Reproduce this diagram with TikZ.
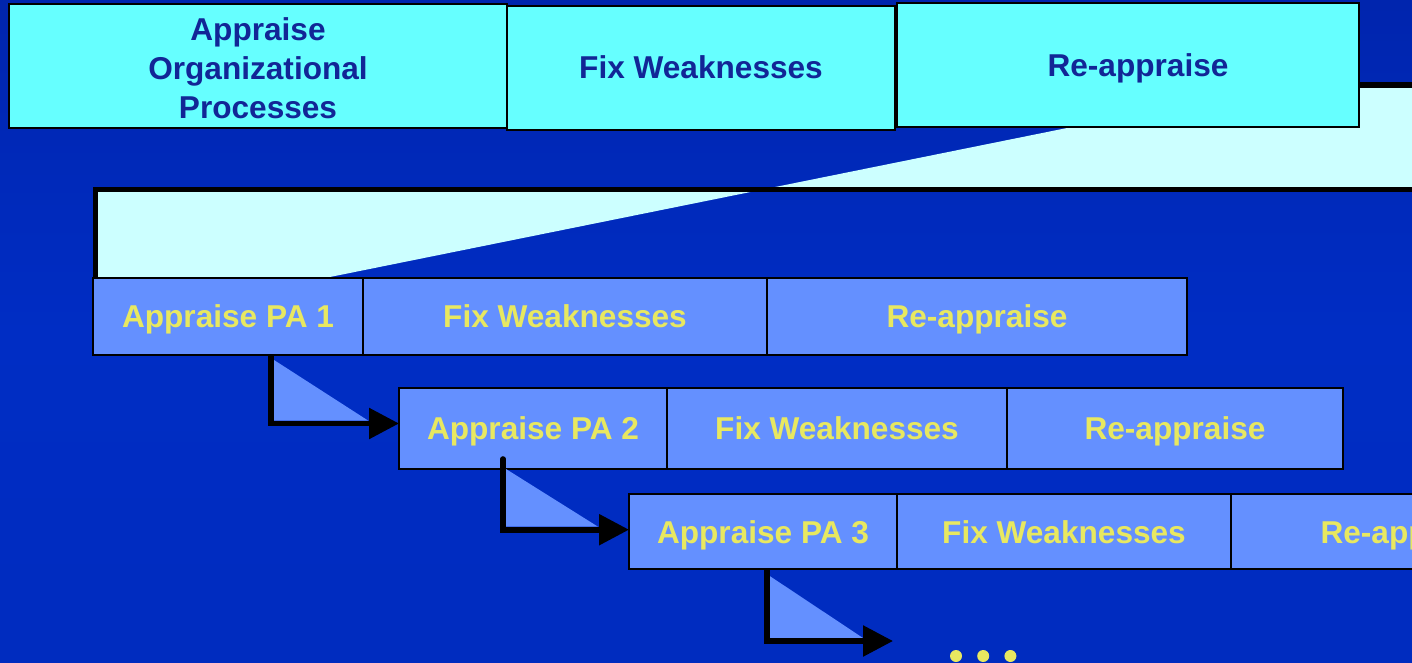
\documentclass[tikz,border=0pt]{standalone}
\usepackage{fontspec}
\setmainfont{Liberation Sans}
\usetikzlibrary{
  arrows.meta,
  positioning,
  calc
}
\definecolor{bgtop}{RGB}{0,22,135}
\definecolor{bgup}{RGB}{0,36,172}
\definecolor{bgmid}{RGB}{0,45,196}
\definecolor{bgbot}{RGB}{0,42,186}
\definecolor{topfill}{RGB}{102,255,255}
\definecolor{topink}{RGB}{18,38,150}
\definecolor{pafill}{RGB}{100,144,255}
\definecolor{paink}{RGB}{232,232,96}
\definecolor{zoomfill}{RGB}{204,255,255}
\pgfdeclareverticalshading{backdrop}{100bp}{color(0bp)=(bgbot); color(50bp)=(bgmid); color(77bp)=(bgup); color(100bp)=(bgtop)}
\tikzset{
  % One line of capitals, centred in its box
  capline/.style={text height=11.3pt, text depth=0pt},
  % Organisation-level box (top row)
  topbox/.style={
    draw=black, line width=1pt, fill=topfill, text=topink,
    minimum width=#1, minimum height=62pt,
    inner sep=0pt, outer sep=0pt, align=center,
    font=\bfseries\fontsize{15.8}{19.3}\selectfont
  },
  % Process-area box
  pabox/.style={
    draw=black, line width=1pt, fill=pafill, text=paink, capline,
    minimum width=#1, minimum height=38.5pt,
    inner sep=0pt, outer sep=0pt,
    font=\bfseries\fontsize{15.8}{19.3}\selectfont
  },
  % Thick elbow arrow
  elbow/.style={
    -{Triangle[length=15pt, width=15pt]}, line width=2.8pt, draw=black
  },
  % Small wedge inside an elbow
  wedge/.style={fill=pafill},
  % Outline of the zoom callout
  rim/.style={draw=black, line width=2.8pt}
}

\begin{document}
\begin{tikzpicture}[x=0.5pt, y=-0.5pt]

\useasboundingbox (0,0) rectangle (1412,663);
\clip (0,0) rectangle (1412,663);
\shade[shading=backdrop] (0,0) rectangle (1412,663);

% ── Zoom callout ──────────────────────────────────────────────────────────────
\fill[zoomfill] (95.5,189.5) -- (1420,189.5) -- (1420,85) -- (1358,85)
  -- (1358,127) -- (1072,127) -- (330,277) -- (95.5,277) -- cycle;
\draw[rim] (95.5,279) -- (95.5,189.5) -- (1420,189.5);
\draw[rim] (1358,85) -- (1420,85);

% ── Organisational level ──────────────────────────────────────────────────────
\node[topbox=249pt] (org1) at (258,65.7)
  {\rule{0pt}{14pt}Appraise\\Organizational\\Processes};
\node[topbox=194pt, capline, right=0pt of org1, yshift=-1pt] (org2) {Fix Weaknesses};
\node[topbox=231pt, capline, right=1pt of org2, yshift=1.2pt] (org3)
  {\hspace*{10pt}Re-appraise};

% ── Process areas ─────────────────────────────────────────────────────────────
\node[pabox=135pt] (apr1) at (228,316.5) {Appraise PA 1};
\node[pabox=202pt, right=0pt of apr1] (fix1) {Fix Weaknesses};
\node[pabox=210pt, right=0pt of fix1] (reapr1) {Re-appraise};

\node[pabox=134pt, minimum height=40.5pt] (apr2) at (533,428.5) {Appraise PA 2};
\node[pabox=170pt, minimum height=40.5pt, right=0pt of apr2] (fix2) {Fix Weaknesses};
\node[pabox=168pt, minimum height=40.5pt, right=0pt of fix2] (reapr2) {Re-appraise};

\node[pabox=134pt, minimum height=37.5pt] (apr3) at (763,531.7) {Appraise PA 3};
\node[pabox=167pt, minimum height=37.5pt, right=0pt of apr3] (fix3) {Fix Weaknesses};
\node[pabox=180pt, minimum height=37.5pt, right=0pt of fix3] (reapr3) {Re-appraise};

\coordinate (more) at (893,641);

% ── Elbows between process areas ──────────────────────────────────────────────
\fill[wedge] ($(apr1.south)+(46,5)$) |- ($(apr2.west)+(-31,-8)$) -- cycle;
\draw[elbow] ($(apr1.south)+(43,0)$) |- ($(apr2.west)+(0,-5)$);

\fill[wedge] ($(apr2.south)+(-27,0)$) |- ($(apr3.west)+(-31,-5)$) -- cycle;
\draw[elbow, line cap=round] ($(apr2.south)+(-30,-10)$) |- ($(apr3.west)+(0,-2)$);

\fill[wedge] ($(apr3.south)+(7,7)$) |- ($(more)+(-30,-3)$) -- cycle;
\draw[elbow] ($(apr3.south)+(4,0)$) |- (more);

% ellipsis
\foreach \i in {0,1,2}{
  \fill[paink] ($(more)+(63+27.2*\i,15)$) circle[radius=3pt];
}

\end{tikzpicture}
\end{document}
